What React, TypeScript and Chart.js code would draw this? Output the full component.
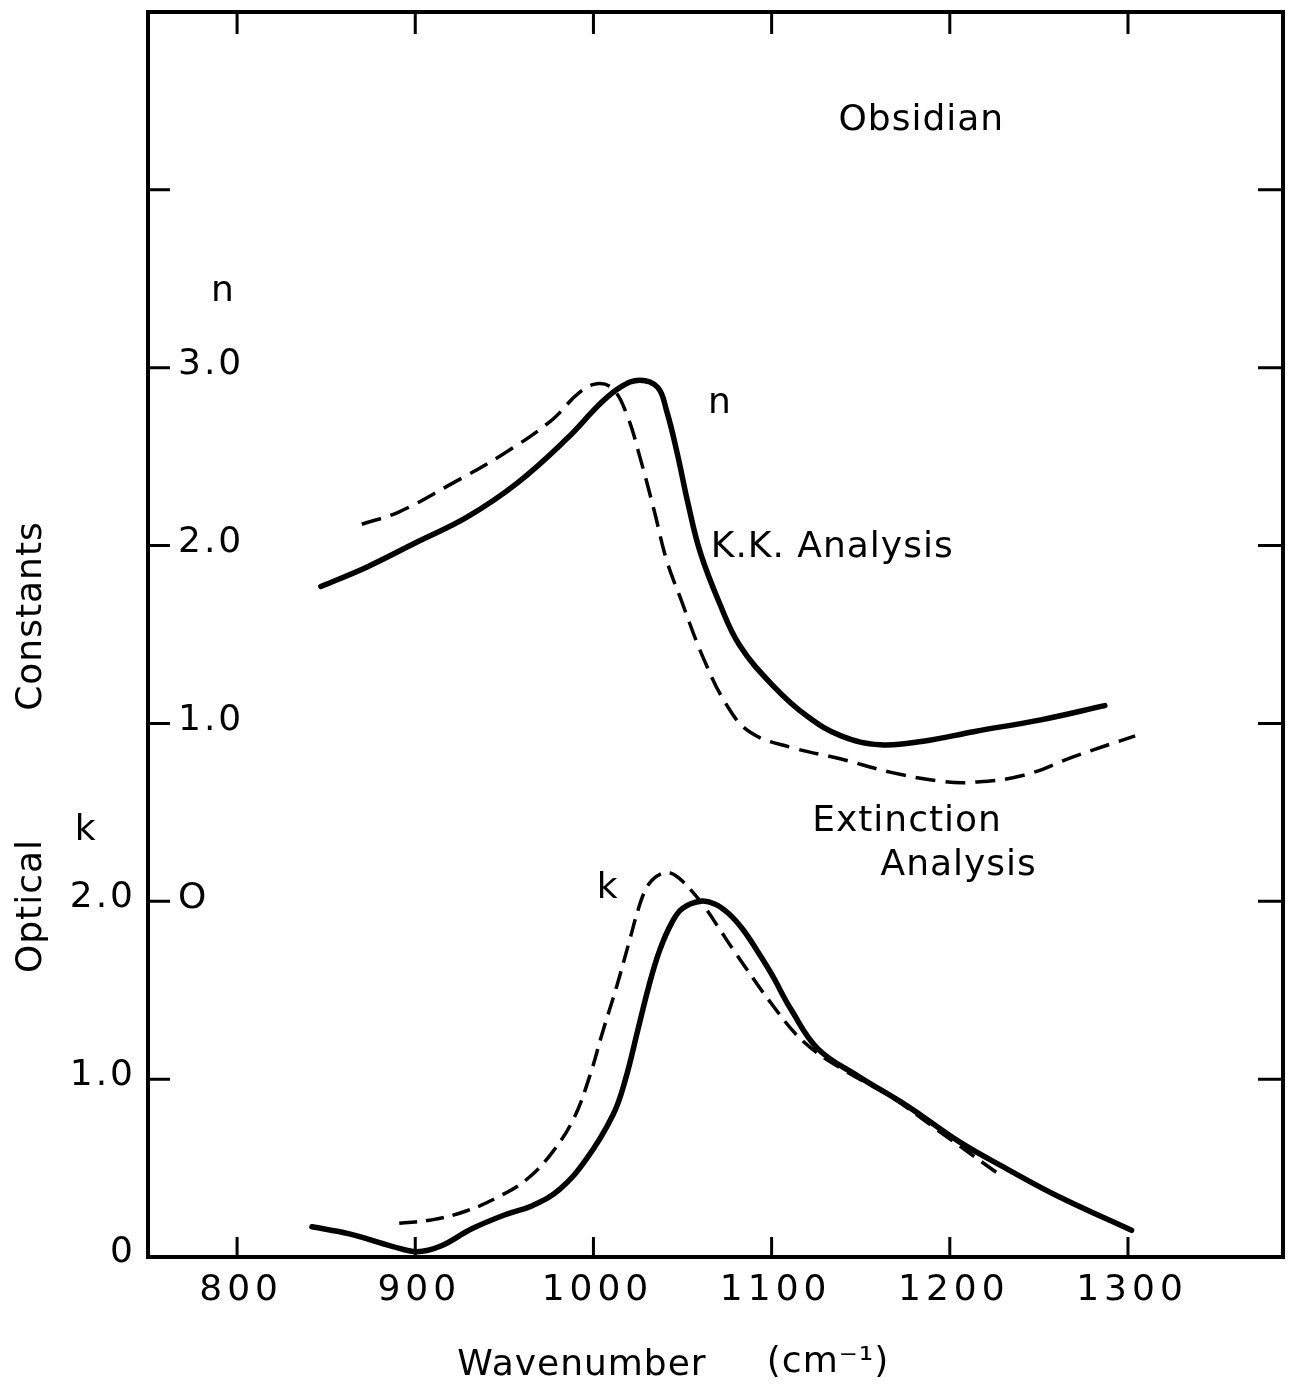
import { useEffect, useRef } from "react";
import { Chart, registerables } from "chart.js";

Chart.register(...registerables);

// ---- data ----
const KK_N_WAVE = [847, 873, 901, 929, 957, 985, 1004, 1015, 1026, 1036, 1041, 1047, 1053, 1060, 1071, 1082, 1101, 1120, 1139, 1161, 1185, 1214, 1251, 1287];
const KK_N = [1.77, 1.88, 2.02, 2.16, 2.35, 2.6, 2.8, 2.89, 2.93, 2.89, 2.76, 2.52, 2.24, 1.96, 1.67, 1.44, 1.21, 1.04, 0.93, 0.88, 0.9, 0.955, 1.02, 1.1];

const EXT_N_WAVE = [870, 891, 919, 947, 976, 992, 1002, 1011, 1019, 1026, 1034, 1041, 1049, 1062, 1075, 1088, 1111, 1139, 1167, 1195, 1214, 1242, 1270, 1304];
const EXT_N = [2.12, 2.19, 2.34, 2.5, 2.7, 2.86, 2.91, 2.88, 2.73, 2.5, 2.2, 1.92, 1.7, 1.36, 1.1, 0.95, 0.865, 0.8, 0.725, 0.675, 0.67, 0.71, 0.815, 0.93];

const KK_K_WAVE = [842, 863, 887, 901, 914, 932, 951, 966, 981, 996, 1011, 1018, 1025, 1031, 1037, 1044, 1050, 1060, 1068, 1076, 1084, 1092, 1100, 1111, 1126, 1148, 1176, 1205, 1233, 1261, 1302];
const KK_K = [0.17, 0.13, 0.06, 0.03, 0.06, 0.16, 0.24, 0.29, 0.38, 0.55, 0.8, 1.0, 1.28, 1.52, 1.72, 1.88, 1.96, 2.0, 1.985, 1.93, 1.84, 1.72, 1.59, 1.39, 1.17, 1.02, 0.85, 0.65, 0.49, 0.34, 0.15];

const EXT_K_WAVE = [891, 910, 929, 947, 963, 977, 989, 998, 1005, 1013, 1020, 1025, 1029, 1033, 1038, 1043, 1048, 1055, 1063, 1071, 1079, 1101, 1118, 1139, 1167, 1195, 1229];
const EXT_K = [0.19, 0.21, 0.26, 0.34, 0.44, 0.59, 0.78, 1.02, 1.26, 1.52, 1.77, 1.95, 2.06, 2.12, 2.155, 2.16, 2.13, 2.06, 1.96, 1.84, 1.72, 1.41, 1.21, 1.06, 0.9, 0.7, 0.455];

const X_TICKS = [800, 900, 1000, 1100, 1200, 1300];
const X_TICK_LABELS = ["800", "900", "1000", "1100", "1200", "1300"];
const K_TICKS = [0, 1, 2];
const K_TICK_LABELS = ["0", "1.0", "2.0"];
const N_TICKS = [0, 1, 2, 3];
const N_TICK_LABELS = ["O", "1.0", "2.0", "3.0"];
const FRAME_TICKS = [1, 2, 3, 4, 5, 6];

const zip = (xs: number[], ys: number[]) => xs.map((x, i) => ({ x, y: ys[i] }));

const FONT = '36px "DejaVu Sans"';

const framePlugin = {
  id: "frameAndLabels",
  afterDatasetsDraw(chart: any) {
    const { ctx, chartArea: a, scales } = chart;
    const sx = scales.x;
    const sk = scales.yK;
    const sn = scales.yN;
    ctx.save();
    ctx.strokeStyle = "#000";
    ctx.fillStyle = "#000";
    ctx.lineCap = "butt";
    ctx.lineWidth = 4;
    ctx.strokeRect(a.left, a.top, a.right - a.left, a.bottom - a.top);

    ctx.lineWidth = 3;
    ctx.beginPath();
    for (const v of X_TICKS) {
      const px = sx.getPixelForValue(v);
      ctx.moveTo(px, a.top);
      ctx.lineTo(px, a.top + 22);
      ctx.moveTo(px, a.bottom);
      ctx.lineTo(px, a.bottom - 20);
    }
    for (const v of FRAME_TICKS) {
      const py = sk.getPixelForValue(v);
      ctx.moveTo(a.left, py);
      ctx.lineTo(a.left + 22, py);
      ctx.moveTo(a.right, py);
      ctx.lineTo(a.right - 25, py);
    }
    ctx.stroke();

    ctx.font = FONT;
    ctx.textBaseline = "middle";

    // x tick labels
    ctx.textAlign = "center";
    (ctx as any).letterSpacing = "5px";
    X_TICKS.forEach((v, i) => {
      ctx.fillText(X_TICK_LABELS[i], sx.getPixelForValue(v) + 4, a.bottom + 34);
    });

    // k tick labels (outside, left)
    (ctx as any).letterSpacing = "3px";
    ctx.textAlign = "right";
    K_TICKS.forEach((v, i) => {
      ctx.fillText(K_TICK_LABELS[i], a.left - 12, sk.getPixelForValue(v) - 4);
    });
    // n tick labels (inside)
    ctx.textAlign = "left";
    N_TICKS.forEach((v, i) => {
      ctx.fillText(N_TICK_LABELS[i], a.left + 30, sn.getPixelForValue(v) - 3);
    });

    (ctx as any).letterSpacing = "1px";
    ctx.textAlign = "center";
    const txt = (s: string, w: number, kv: number) =>
      ctx.fillText(s, sx.getPixelForValue(w), sk.getPixelForValue(kv));
    txt("Obsidian", 1184, 6.39);
    txt("n", 792, 5.43);
    txt("n", 1071, 4.8);
    txt("K.K. Analysis", 1134, 3.99);
    txt("Extinction", 1176, 2.45);
    txt("Analysis", 1205, 2.2);
    txt("k", 1008, 2.07);
    txt("k", 715, 2.4);

    // x axis title
    ctx.fillText("Wavenumber", a.left + 434, a.bottom + 109);
    ctx.fillText("(cm\u207B\u00B9)", a.left + 680, a.bottom + 106);

    // y axis title
    ctx.translate(32, 0);
    ctx.rotate(-Math.PI / 2);
    ctx.fillText("Optical", -906, 0);
    ctx.fillText("Constants", -616, 0);
    ctx.restore();
  },
};

export default function App() {
  const ref = useRef<HTMLCanvasElement | null>(null);
  useEffect(() => {
    document.body.style.margin = "0";
    const canvas = ref.current;
    if (!canvas) return;
    const common = { pointRadius: 0, fill: false, borderColor: "#000", tension: 0.4, borderCapStyle: "round" as const, borderJoinStyle: "round" as const };
    const chart = new Chart(canvas, {
      type: "line",
      data: {
        datasets: [
          { ...common, label: "n K.K.", data: zip(KK_N_WAVE, KK_N), yAxisID: "yN", borderWidth: 5.5 },
          { ...common, label: "n Extinction", data: zip(EXT_N_WAVE, EXT_N), yAxisID: "yN", borderWidth: 3.5, borderDash: [20, 10], borderCapStyle: "butt" as const },
          { ...common, label: "k K.K.", data: zip(KK_K_WAVE, KK_K), yAxisID: "yK", borderWidth: 5.5 },
          { ...common, label: "k Extinction", data: zip(EXT_K_WAVE, EXT_K), yAxisID: "yK", borderWidth: 3.5, borderDash: [18, 9], borderCapStyle: "butt" as const },
        ],
      },
      options: {
        animation: false,
        responsive: true,
        maintainAspectRatio: false,
        layout: { padding: { left: 148, top: 12, right: 30, bottom: 131 } },
        plugins: { legend: { display: false }, tooltip: { enabled: false } },
        scales: {
          x: { type: "linear", min: 750, max: 1387, display: false },
          yK: { type: "linear", min: 0, max: 7, display: false },
          yN: { type: "linear", min: -2, max: 5, display: false },
        },
      },
      plugins: [framePlugin],
    });
    return () => chart.destroy();
  }, []);
  return (
    <div style={{ position: "absolute", left: 0, top: 0, width: 1313, height: 1388, background: "#fff" }}>
      <canvas ref={ref} />
    </div>
  );
}
